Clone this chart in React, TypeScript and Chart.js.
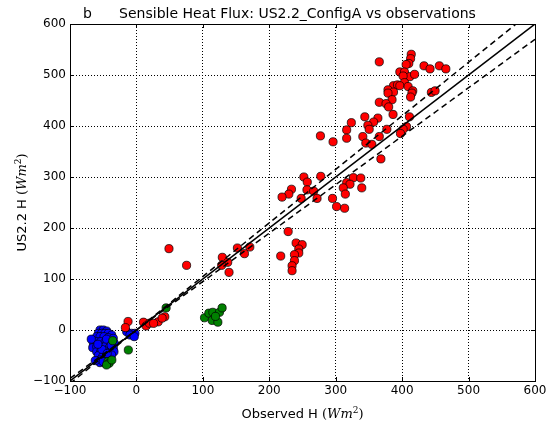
import React, { useEffect, useRef } from "react";
import { Chart, registerables } from "chart.js";
Chart.register(...registerables);

const titleTag = "b";
const titleText = "Sensible Heat Flux: US2.2_ConfigA vs observations";
const xLabel = "Observed H";
const yLabel = "US2.2 H";
const axisMin = -100;
const axisMax = 600;
const axisStep = 100;

const redX = [365.6, 413.7, 412.7, 410, 406, 432.9, 442, 456, 465.8, 396.5, 403.5, 411.6, 418.7, 401.5, 403.5, 387, 393, 396.5, 378.7, 387, 378.7, 409, 416, 414.7, 444, 449.6, 412.7, 384.8, 365.6, 375.7, 379.7, 386.3, 411, 343.8, 363.5, 357, 348.4, 350.4, 323.5, 316.5, 377, 406.6, 401.5, 397.5, 277, 316.5, 340.8, 365.6, 296, 345.3, 354.4, 368, 252, 277.5, 257.2, 326.6, 337.7, 316.5, 321.5, 233.4, 229.4, 219.2, 256.7, 266.8, 248, 271.9, 311.4, 339.2, 314.5, 295.2, 301.3, 313.4, 228.4, 240.4, 249.5, 244.4, 244.4, 237.9, 217.2, 237.9, 234.3, 234.3, 152, 170.7, 162.6, 129.3, 137.4, 128.3, 139.4, 49, 75.5, -12.6, -16.6, 10.6, 14.6, 19.6, 32.7, 42.7, 38.7, 25.8];
const redY = [525.8, 540.6, 532, 522.6, 520.6, 518, 512, 518, 512, 506, 505.8, 496.8, 501.3, 498, 485, 479, 480.6, 479, 471, 466.5, 464.5, 477.4, 469, 464.5, 465.8, 469, 456.8, 451.6, 446.5, 443.9, 437.4, 422.6, 418, 418, 415.5, 407.7, 401.3, 393.5, 406.5, 392.3, 393.5, 398.7, 393.5, 385.2, 380.6, 376, 379.3, 379.3, 369, 366.5, 364, 335.5, 300, 301.3, 290, 298.7, 298, 289, 285.8, 276, 266.5, 260.6, 274.8, 272.3, 258, 258, 278.7, 278.7, 266.5, 258, 242, 238.7, 193, 170.6, 167.3, 158.8, 151, 147.7, 145, 136, 126, 116.3, 160.8, 162.7, 149.7, 142.5, 132.7, 126.8, 113, 159.5, 126.8, 16.7, 4.7, 15.3, 8, 13.3, 16, 26, 23.3, 13];

const greenX = [44.7, 102.5, 109, 115, 114, 122.6, 125, 129, 119, -12.2, -35.7, -43, -41, -45, -37];
const greenY = [43.3, 24, 33, 34.7, 18.7, 15.3, 34.7, 43.3, 26.7, -39.2, -21, -62, -65, -68.6, -58.8];

const blueX = [-54.8, -49.8, -44.8, -57.3, -52.3, -47.3, -42.3, -37.3, -59.8, -54.8, -48.8, -42.3, -34.8, -64.8, -59.8, -53.8, -47.3, -40.8, -33.3, -65.8, -59.8, -53.8, -47.3, -40.8, -34.8, -59.8, -53.8, -47.3, -40.8, -33.8, -57.3, -50.8, -44.8, -37.3, -54.8, -48.8, -42.3, -54.8, -47.3, -68, -62, -50, -45, -52, -44, -58, -38, -14.7, -7.3, -2.3, -9.8, -3.3];
const blueY = [0, 0, -2, -6.5, -6.5, -6.5, -6.5, -9.8, -13, -13, -13, -15, -16.3, -26, -22.9, -22.9, -24.2, -26, -26, -34.6, -32.7, -32.7, -32.7, -34.6, -35.9, -42.5, -42.5, -41.2, -43.8, -42.5, -50.3, -52.3, -50.3, -49, -58.8, -62, -58.8, -64, -64, -18, -60, -62, -18, -38, -46, -28, -30, -3.3, -6.5, -6.5, -9.8, -13];

// 1:1 line and +/-5% envelope endpoints
const oneX = [-100, 600];
const oneY = [-100, 600];
const upX = [-100, 600];
const upY = [-105, 630];
const loX = [-100, 600];
const loY = [-95, 570];

const pts = (xs: number[], ys: number[]) => xs.map((x, i) => ({ x, y: ys[i] }));

const FONT = "'DejaVu Sans', sans-serif";

const labelSegments = (plain: string) => [
  { t: plain + " ", f: `13px ${FONT}`, dy: 0 },
  { t: "(", f: `13px 'DejaVu Serif', serif`, dy: 0 },
  { t: "Wm", f: `italic 13px 'DejaVu Serif', serif`, dy: 0 },
  { t: "2", f: `9px 'DejaVu Serif', serif`, dy: -5 },
  { t: ")", f: `13px 'DejaVu Serif', serif`, dy: 0 },
];

const decorPlugin = {
  id: "decor",
  afterDraw(chart: any) {
    const ctx: CanvasRenderingContext2D = chart.ctx;
    const a = chart.chartArea;
    const xs = chart.scales.x;
    const ys = chart.scales.y;
    ctx.save();
    ctx.strokeStyle = "#000";
    ctx.lineWidth = 1;
    ctx.setLineDash([]);
    ctx.strokeRect(Math.round(a.left) + 0.5, Math.round(a.top) + 0.5, Math.round(a.right - a.left), Math.round(a.bottom - a.top));
    for (let v = axisMin; v <= axisMax; v += axisStep) {
      const px = Math.round(xs.getPixelForValue(v)) + 0.5;
      const py = Math.round(ys.getPixelForValue(v)) + 0.5;
      ctx.beginPath();
      ctx.moveTo(px, a.bottom); ctx.lineTo(px, a.bottom - 4);
      ctx.moveTo(px, a.top); ctx.lineTo(px, a.top + 4);
      ctx.moveTo(a.left, py); ctx.lineTo(a.left + 4, py);
      ctx.moveTo(a.right, py); ctx.lineTo(a.right - 4, py);
      ctx.stroke();
    }
    ctx.fillStyle = "#000";
    ctx.font = `14px ${FONT}`;
    ctx.textBaseline = "alphabetic";
    ctx.textAlign = "left";
    ctx.fillText(titleTag, 83, 18);
    const tw = ctx.measureText(titleText).width;
    ctx.fillText(titleText, 297.5 - tw / 2, 18);
    const segX = labelSegments(xLabel);
    let total = 0;
    segX.forEach((s) => { ctx.font = s.f; total += ctx.measureText(s.t).width; });
    let cx = (a.left + a.right) / 2 - total / 2;
    segX.forEach((s) => { ctx.font = s.f; ctx.fillText(s.t, cx, 418 + s.dy); cx += ctx.measureText(s.t).width; });
    const segY = labelSegments(yLabel);
    total = 0;
    segY.forEach((s) => { ctx.font = s.f; total += ctx.measureText(s.t).width; });
    ctx.translate(26, (a.top + a.bottom) / 2);
    ctx.rotate(-Math.PI / 2);
    cx = -total / 2;
    segY.forEach((s) => { ctx.font = s.f; ctx.fillText(s.t, cx, s.dy); cx += ctx.measureText(s.t).width; });
    ctx.restore();
  },
};

export default function App() {
  const ref = useRef<HTMLCanvasElement | null>(null);
  useEffect(() => {
    if (!ref.current) return;
    const markerBorder = "rgba(0,0,0,0.8)";
    const r = 4.1;
    const tickCfg = {
      stepSize: axisStep,
      color: "#000",
      font: { family: FONT, size: 12 },
      callback: (v: any) => String(v).replace("-", "\u2212"),
    };
    const chart = new Chart(ref.current, {
      type: "scatter",
      data: {
        datasets: [
          { type: "line", data: pts(oneX, oneY), borderColor: "#000", borderWidth: 1.5, pointRadius: 0, showLine: true, order: 0 } as any,
          { type: "line", data: pts(upX, upY), borderColor: "#000", borderWidth: 1.5, borderDash: [6, 4], pointRadius: 0, showLine: true, order: 0 } as any,
          { type: "line", data: pts(loX, loY), borderColor: "#000", borderWidth: 1.5, borderDash: [6, 4], pointRadius: 0, showLine: true, order: 0 } as any,
          { data: pts(redX, redY), backgroundColor: "#ff0000", borderColor: markerBorder, borderWidth: 0.9, pointRadius: r, order: 1 },
          { data: pts(greenX, greenY), backgroundColor: "#008000", borderColor: markerBorder, borderWidth: 0.9, pointRadius: r, order: 2 },
          { data: pts(blueX, blueY), backgroundColor: "#0000ff", borderColor: markerBorder, borderWidth: 0.9, pointRadius: r, order: 3 },
        ],
      },
      options: {
        responsive: false,
        animation: false,
        devicePixelRatio: 1,
        layout: { padding: { left: 0, right: 18, top: 24, bottom: 0 } },
        plugins: { legend: { display: false }, tooltip: { enabled: false }, title: { display: false } },
        scales: {
          x: {
            type: "linear",
            min: axisMin,
            max: axisMax,
            ticks: { ...tickCfg, padding: 3 },
            grid: { color: "#000", lineWidth: 1, drawTicks: false },
            border: { display: false, dash: [1, 2] },
            afterFit: (s: any) => { s.height = 47; },
          },
          y: {
            type: "linear",
            min: axisMin,
            max: axisMax,
            ticks: { ...tickCfg, padding: 4 },
            grid: { color: "#000", lineWidth: 1, drawTicks: false },
            border: { display: false, dash: [1, 2] },
            afterFit: (s: any) => { s.width = 70; },
          },
        },
      } as any,
      plugins: [decorPlugin],
    });
    return () => chart.destroy();
  }, []);
  return (
    <div style={{ position: "fixed", left: 0, top: 0, width: 553, height: 428, background: "#fff" }}>
      <canvas ref={ref} width={553} height={428} />
    </div>
  );
}
